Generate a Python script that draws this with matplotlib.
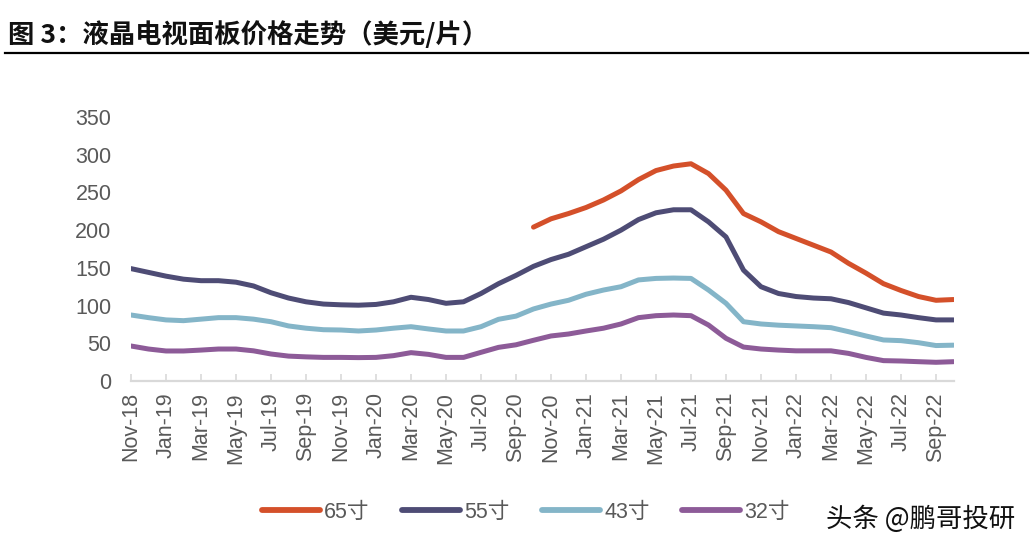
import matplotlib
matplotlib.use("Agg")
import matplotlib.pyplot as plt
import numpy as np

plt.rcParams['font.family'] = ['Liberation Sans', 'Noto Sans CJK SC', 'DejaVu Sans']

# Monthly data, Nov-18 .. Oct-22 (48 months)
months = ["Nov-18", "Dec-18", "Jan-19", "Feb-19", "Mar-19", "Apr-19", "May-19", "Jun-19",
          "Jul-19", "Aug-19", "Sep-19", "Oct-19", "Nov-19", "Dec-19", "Jan-20", "Feb-20",
          "Mar-20", "Apr-20", "May-20", "Jun-20", "Jul-20", "Aug-20", "Sep-20", "Oct-20",
          "Nov-20", "Dec-20", "Jan-21", "Feb-21", "Mar-21", "Apr-21", "May-21", "Jun-21",
          "Jul-21", "Aug-21", "Sep-21", "Oct-21", "Nov-21", "Dec-21", "Jan-22", "Feb-22",
          "Mar-22", "Apr-22", "May-22", "Jun-22", "Jul-22", "Aug-22", "Sep-22", "Oct-22"]

p65 = [None] * 23 + [204, 215, 222, 230, 240, 252, 267, 279, 285, 288, 275, 253,
                     222, 211, 198, 189, 180, 171, 156, 143, 129, 120, 112, 107, 108]
p55 = [149, 144, 139, 135, 133, 133, 131, 126, 117, 110, 105, 102, 101, 100.5, 101.5, 105,
       111, 108, 103, 105, 116, 129, 140, 152, 161, 168, 178, 188, 200, 214, 223, 227,
       227, 211, 191, 147, 125, 116, 112, 110, 109, 104, 97, 90, 87.5, 84, 81, 81]
p43 = [87.5, 84, 81, 80, 82, 84, 84, 82, 78.6, 73, 70, 68, 67.6, 66.3, 67.6, 70,
       72, 69, 66.3, 66.3, 72, 81.8, 86, 95.5, 102, 107, 115, 120.6, 125, 134, 136, 136.5,
       136, 120.6, 103, 78.6, 75.6, 74, 73, 72, 70.7, 65.4, 59.7, 54.4, 53.5, 50.8, 47, 47.5]
p32 = [46.4, 42.4, 39.8, 39.8, 41, 42.4, 42.4, 40, 35.8, 33, 32, 31.3, 31.3, 31, 31.3, 33.6,
       37.6, 35.3, 31.3, 31.3, 38, 44.6, 48, 54, 59.7, 62.3, 66.3, 70, 75.6, 84, 86.6, 87.5,
       86.6, 74.2, 56.6, 45, 42.4, 41, 40, 40, 40, 36.6, 31.3, 27, 26.5, 25.6, 24.8, 25.6]

series_names = ["65寸", "55寸", "43寸", "32寸"]
series_vals = [p65, p55, p43, p32]
colors = ["#D4502A", "#4E4C75", "#84B5C8", "#8D5B98"]

yticks = [0, 50, 100, 150, 200, 250, 300, 350]

fig = plt.figure(figsize=(10.33, 5.48), dpi=100)
ax = fig.add_axes([131 / 1033, 1 - 381 / 548, (953.5 - 131) / 1033, (381 - 117) / 548])

x = np.arange(len(months))
handles = []
for name, vals, c in zip(series_names, series_vals, colors):
    y = np.array([np.nan if v is None else v for v in vals], dtype=float)
    h, = ax.plot(x, y, color=c, lw=3.6, solid_capstyle='round', solid_joinstyle='round', label=name)
    handles.append(h)

ax.set_xlim(0, len(months) - 1)
ax.set_ylim(0, 350)
ax.set_yticks(yticks)
ax.set_xticks(x[::2])
ax.set_xticklabels(months[::2], rotation=90)

for s in ['top', 'right', 'left']:
    ax.spines[s].set_visible(False)
ax.spines['bottom'].set_color('#D9D9D9')
ax.spines['bottom'].set_linewidth(1.6)
ax.spines['bottom'].set_zorder(0)

ax.tick_params(axis='y', length=0, pad=14, labelsize=15.5, labelcolor='#595959')
ax.tick_params(axis='x', direction='in', length=5, width=1.2, color='#D9D9D9',
               pad=8, labelsize=15.5, labelcolor='#595959')

leg = fig.legend(handles=handles, loc='center', bbox_to_anchor=(0.509, 1 - 512 / 548),
                 ncol=4, frameon=False, fontsize=15.5, handlelength=2.7, handletextpad=0.2,
                 columnspacing=1.5)
for t in leg.get_texts():
    t.set_color('#595959')
    t.set_family(['Liberation Sans', 'Noto Sans CJK SC'])
for lh in leg.legend_handles:
    lh.set_linewidth(4.2)

fig.text(8 / 1033, 1 - 35 / 548, "图 3：液晶电视面板价格走势（美元/片）", fontsize=19,
         fontweight='bold', family=['Noto Sans CJK SC', 'DejaVu Sans'], va='center', ha='left',
         color='#111111')
fig.add_artist(plt.Line2D([5 / 1033, 1028 / 1033], [1 - 53 / 548, 1 - 53 / 548],
                          color='black', lw=1.6, transform=fig.transFigure))

fig.text(1015 / 1033, 1 - 519 / 548, "头条 @鹏哥投研", fontsize=19,
         family=['Noto Sans CJK SC', 'DejaVu Sans'], va='center', ha='right', color='#111111')

fig.savefig("out.png", dpi=100)
